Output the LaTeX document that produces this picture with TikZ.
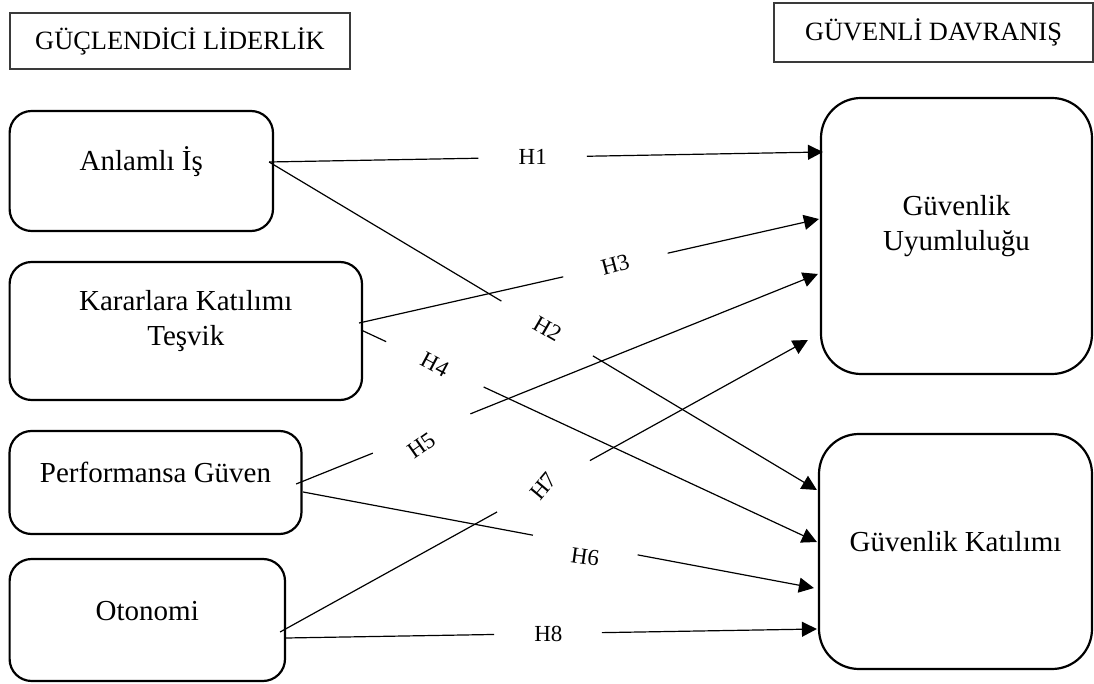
\documentclass[tikz,border=0pt]{standalone}
\usepackage{fontspec}
\setmainfont{Liberation Serif}
\usetikzlibrary{arrows.meta,calc}
\definecolor{frame700}{HTML}{3a3a3a}
\tikzset{
  every node/.style={font=\fontsize{14.5}{17.5}\selectfont},
  headbox/.style={
    rectangle, draw=frame700, line width=0.55pt,
    font=\fontsize{13.2}{16}\selectfont, inner sep=0pt
  },
  factor/.style={
    rectangle, rounded corners=11pt,
    draw=black, line width=1.1pt,
    align=center, inner sep=0pt,
    text height=11pt, text depth=11pt
  },
  twoline/.style={text height=26pt, text depth=11pt},
  outcome/.style={factor, rounded corners=20pt},
  link/.style={line width=0.6pt, draw=black},
  arrow/.style={link, -{Triangle[length=7.5pt,width=7.5pt]}},
  hyp/.style={font=\fontsize{11.5}{13}\selectfont, inner sep=1pt},
}
\begin{document}
\begin{tikzpicture}[x=0.5pt, y=-0.5pt]
  \useasboundingbox (0,0) rectangle (1094,684);
  % headings
  \node[headbox, minimum width=170pt, minimum height=28pt] (lead) at (180,41) {GÜÇLENDİCİ LİDERLİK};
  \node[headbox, minimum width=159.5pt, minimum height=29.5pt] (safe) at (933.5,32.5) {GÜVENLİ DAVRANIŞ\hspace{8pt}};
  % left factors
  \node[factor, minimum width=131.7pt, minimum height=60pt] (anl) at (141.3,171) {Anlamlı İş};
  \node[factor, twoline, minimum width=176.2pt, minimum height=69pt] (kar) at (185.8,331) {Kararlara Katılımı\\Teşvik};
  \node[factor, minimum width=146pt, minimum height=51.5pt] (per) at (155.5,482.5) {Performansa Güven};
  \node[factor, minimum width=137.7pt, minimum height=61pt] (oto) at (147.3,620) {Otonomi};
  % right outcomes
  \node[outcome, twoline, minimum width=135.5pt, minimum height=138pt] (uyum) at (956.5,236) {Güvenlik\\Uyumluluğu};
  \node[outcome, minimum width=136.5pt, minimum height=117.5pt] (kat) at (955.5,551.5) {Güvenlik Katılımı};
  % line ends on the boxes
  \coordinate (anlA) at ([shift={(-5,-9)}]anl.east);
  \coordinate (karA) at ([shift={(-4,-8)}]kar.east);
  \coordinate (karB) at ([shift={(-2,-1)}]kar.east);
  \coordinate (perA) at ([shift={(-6.5,1.5)}]per.east);
  \coordinate (perB) at ([shift={(0.5,9.5)}]per.east);
  \coordinate (otoA) at ([shift={(-6,12)}]oto.east);
  \coordinate (otoB) at ([shift={(0,18)}]oto.east);
  \coordinate (uyum1) at ([shift={(3,-84)}]uyum.west);
  \coordinate (uyum3) at ([shift={(-1,-17)}]uyum.west);
  \coordinate (uyum5) at ([shift={(-2,38)}]uyum.west);
  \coordinate (uyum7) at ([shift={(-12,104)}]uyum.west);
  \coordinate (kat2) at ([shift={(-1,-61.5)}]kat.west);
  \coordinate (kat4) at ([shift={(-1,-9.5)}]kat.west);
  \coordinate (kat6) at ([shift={(-4,36.5)}]kat.west);
  \coordinate (kat8) at ([shift={(-1,77.5)}]kat.west);
  % H1
  \draw[link] (anlA) -- ($(anlA)!0.378!(uyum1)$);
  \draw[arrow] ($(anlA)!0.574!(uyum1)$) -- (uyum1);
  \node[hyp] (h1) at ($(anlA)!0.476!(uyum1)$) {H1};
  % H2
  \draw[link] (anlA) -- ($(anlA)!0.424!(kat2)$);
  \draw[arrow] ($(anlA)!0.591!(kat2)$) -- (kat2);
  \node[hyp, rotate=-30] (h2) at ($(anlA)!0.508!(kat2)$) {H2};
  % H3
  \draw[link] (karA) -- ($(karA)!0.444!(uyum3)$);
  \draw[arrow] ($(karA)!0.671!(uyum3)$) -- (uyum3);
  \node[hyp, rotate=15] (h3) at ($(karA)!0.557!(uyum3)$) {H3};
  % H4
  \draw[link] (karB) -- ($(karB)!0.055!(kat4)$);
  \draw[arrow] ($(karB)!0.269!(kat4)$) -- (kat4);
  \node[hyp, rotate=-28] (h4) at ($(karB)!0.162!(kat4)$) {H4};
  % H5
  \draw[link] (perA) -- ($(perA)!0.147!(uyum5)$);
  \draw[arrow] ($(perA)!0.334!(uyum5)$) -- (uyum5);
  \node[hyp, rotate=35] (h5) at ([yshift=-6]$(perA)!0.24!(uyum5)$) {H5};
  % H6
  \draw[link] (perB) -- ($(perB)!0.450!(kat6)$);
  \draw[arrow] ($(perB)!0.655!(kat6)$) -- (kat6);
  \node[hyp, rotate=-8] (h6) at ([yshift=-6]$(perB)!0.552!(kat6)$) {H6};
  % H7
  \draw[link] (otoA) -- ($(otoA)!0.411!(uyum7)$);
  \draw[arrow] ($(otoA)!0.587!(uyum7)$) -- (uyum7);
  \node[hyp, rotate=50] (h7) at ($(otoA)!0.499!(uyum7)$) {H7};
  % H8
  \draw[link] (otoB) -- ($(otoB)!0.392!(kat8)$);
  \draw[arrow] ($(otoB)!0.595!(kat8)$) -- (kat8);
  \node[hyp] (h8) at ($(otoB)!0.494!(kat8)$) {H8};
\end{tikzpicture}
\end{document}
